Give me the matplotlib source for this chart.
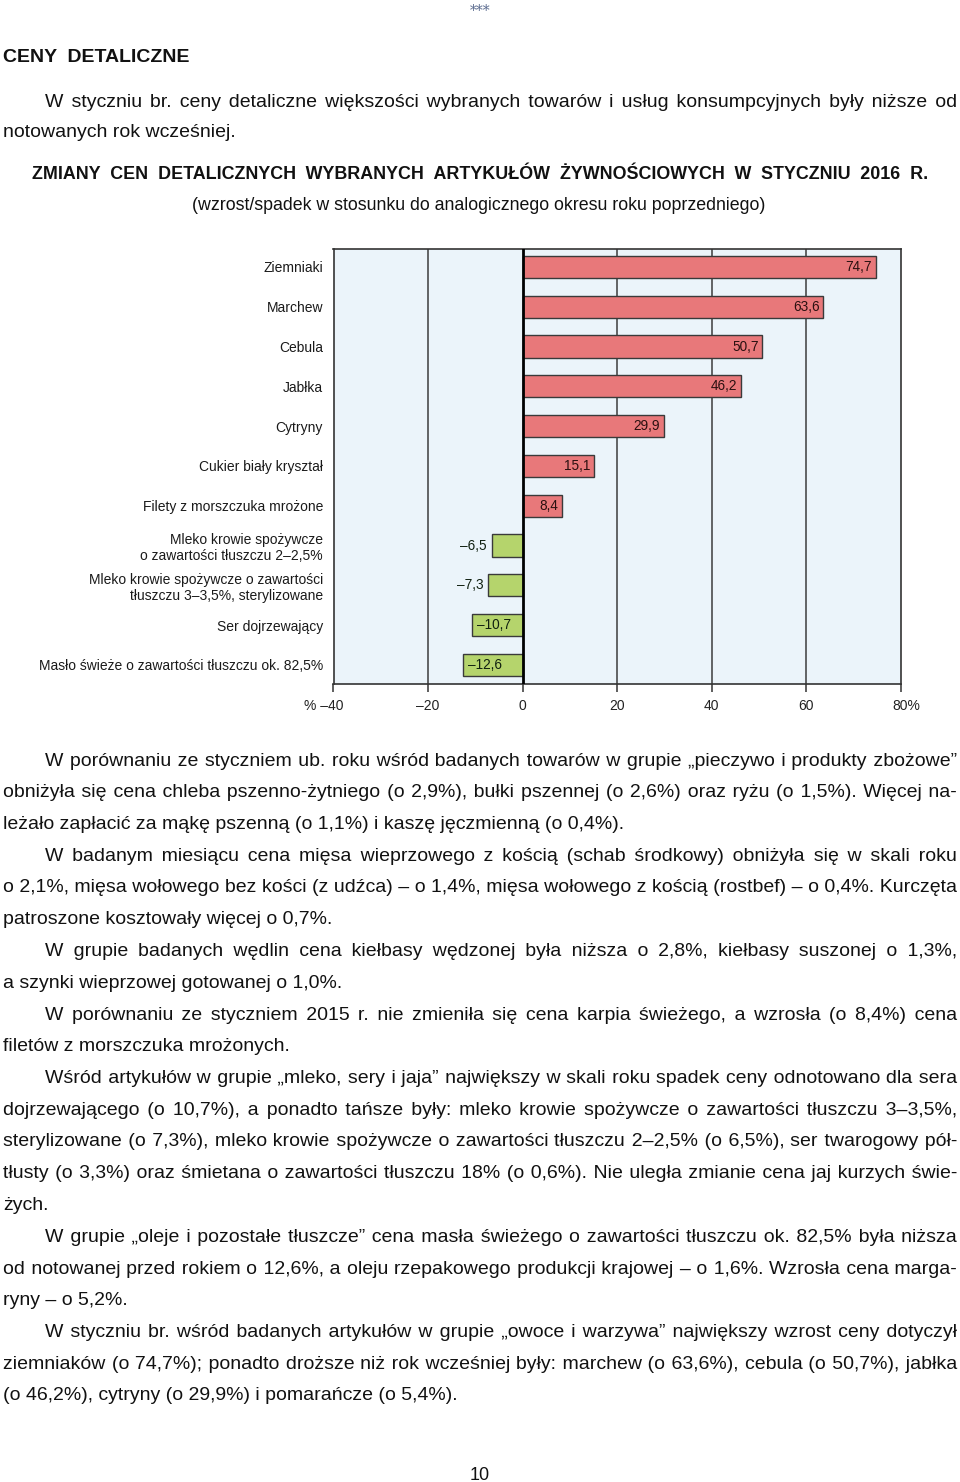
import itertools
import matplotlib
matplotlib.use('Agg')
import matplotlib.pyplot as plt
from matplotlib.transforms import ScaledTranslation
import numpy as np

# ---------------- data ----------------
categories = [
    'Ziemniaki', 'Marchew', 'Cebula', 'Jabłka', 'Cytryny',
    'Cukier biały kryształ', 'Filety z morszczuka mrożone',
    'Mleko krowie spożywcze\no zawartości tłuszczu 2–2,5%',
    'Mleko krowie spożywcze o zawartości\ntłuszczu 3–3,5%, sterylizowane',
    'Ser dojrzewający',
    'Masło świeże o zawartości tłuszczu ok. 82,5%',
]
values = [74.7, 63.6, 50.7, 46.2, 29.9, 15.1, 8.4, -6.5, -7.3, -10.7, -12.6]
tick_values = [-40, -20, 0, 20, 40, 60, 80]
tick_labels = ['% –40', '–20', '0', '20', '40', '60', '80%']

page_mark = '***'
section_title = 'CENY  DETALICZNE'
intro_lines = [
    'W styczniu br. ceny detaliczne większości wybranych towarów i usług konsumpcyjnych były niższe od',
    'notowanych rok wcześniej.',
]
chart_title = 'ZMIANY CEN DETALICZNYCH WYBRANYCH ARTYKUŁÓW ŻYWNOŚCIOWYCH W STYCZNIU 2016 R.'
chart_subtitle = '(wzrost/spadek w stosunku do analogicznego okresu roku poprzedniego)'
paragraphs = [
    ['W porównaniu ze styczniem ub. roku wśród badanych towarów w grupie „pieczywo i produkty zbożowe”',
     'obniżyła się cena chleba pszenno-żytniego (o 2,9%), bułki pszennej (o 2,6%) oraz ryżu (o 1,5%). Więcej na-',
     'leżało zapłacić za mąkę pszenną (o 1,1%) i kaszę jęczmienną (o 0,4%).'],
    ['W badanym miesiącu cena mięsa wieprzowego z kością (schab środkowy) obniżyła się w skali roku',
     'o 2,1%, mięsa wołowego bez kości (z udźca) – o 1,4%, mięsa wołowego z kością (rostbef) – o 0,4%. Kurczęta',
     'patroszone kosztowały więcej o 0,7%.'],
    ['W grupie badanych wędlin cena kiełbasy wędzonej była niższa o 2,8%, kiełbasy suszonej o 1,3%,',
     'a szynki wieprzowej gotowanej o 1,0%.'],
    ['W porównaniu ze styczniem 2015 r. nie zmieniła się cena karpia świeżego, a wzrosła (o 8,4%) cena',
     'filetów z morszczuka mrożonych.'],
    ['Wśród artykułów w grupie „mleko, sery i jaja” największy w skali roku spadek ceny odnotowano dla sera',
     'dojrzewającego (o 10,7%), a ponadto tańsze były: mleko krowie spożywcze o zawartości tłuszczu 3–3,5%,',
     'sterylizowane (o 7,3%), mleko krowie spożywcze o zawartości tłuszczu 2–2,5% (o 6,5%), ser twarogowy pół-',
     'tłusty (o 3,3%) oraz śmietana o zawartości tłuszczu 18% (o 0,6%). Nie uległa zmianie cena jaj kurzych świe-',
     'żych.'],
    ['W grupie „oleje i pozostałe tłuszcze” cena masła świeżego o zawartości tłuszczu ok. 82,5% była niższa',
     'od notowanej przed rokiem o 12,6%, a oleju rzepakowego produkcji krajowej – o 1,6%. Wzrosła cena marga-',
     'ryny – o 5,2%.'],
    ['W styczniu br. wśród badanych artykułów w grupie „owoce i warzywa” największy wzrost ceny dotyczył',
     'ziemniaków (o 74,7%); ponadto droższe niż rok wcześniej były: marchew (o 63,6%), cebula (o 50,7%), jabłka',
     '(o 46,2%), cytryny (o 29,9%) i pomarańcze (o 5,4%).'],
]
page_number = '10'

# ---------------- style ----------------
W, H = 960, 1482
FAM = ['Liberation Sans', 'DejaVu Sans']
PT = 0.72  # points per pixel at dpi 100
RED = '#E8787A'
GREEN = '#B5D46C'
BG = '#EBF4FA'
EDGE = '#3a3a3a'
GRID = '#3c3c3c'
TXT = '#111111'

fig = plt.figure(figsize=(W / 100, H / 100), dpi=100)
fig.patch.set_facecolor('white')
renderer = fig.canvas.get_renderer()


def fx(x):
    return x / W


def fy(y):
    return 1 - y / H


_wcache = {}


def text_width(s, size, weight='normal'):
    key = (s, size, weight)
    if key not in _wcache:
        t = fig.text(0, 0, s, fontsize=size, family=FAM, weight=weight)
        _wcache[key] = t.get_window_extent(renderer).width
        t.remove()
    return _wcache[key]


def advance(s, size, weight='normal'):
    return text_width('x' + s + 'x', size, weight) - text_width('xx', size, weight)


SPACE_CHARS = [' ', '\u2009', '\u200a', '\u2006', '\u2005', '\u2004']


def gap_options(size, weight):
    opts = {}
    for n in (1, 2, 3):
        for combo in itertools.combinations_with_replacement(SPACE_CHARS, n):
            if ' ' not in combo and n > 1:
                pass
            s = ''.join(combo)
            opts[s] = advance(s, size, weight)
    return sorted(opts.items(), key=lambda kv: kv[1])


_gap_cache = {}


def justified_string(s, width, size, weight):
    """Compose one string whose word gaps are filled with unicode spaces of
    mixed widths so that the whole line spans `width` pixels."""
    key = (size, weight)
    if key not in _gap_cache:
        _gap_cache[key] = gap_options(size, weight)
    opts = _gap_cache[key]
    words = [w for w in s.split(' ') if w != '']
    adv = [advance(w, size, weight) for w in words]
    gap = (width - sum(adv)) / (len(words) - 1)
    out = words[0]
    pos = adv[0]
    target = adv[0]
    for w, a in zip(words[1:], adv[1:]):
        target += gap
        need = target - pos
        best = min(opts, key=lambda kv: abs(kv[1] - need))
        out += best[0] + w
        pos += best[1] + a
        target += a
    return out


def put_line(s, x0, x1, base_y, size, weight='normal', justify=True, color=TXT):
    if justify:
        s = justified_string(s, x1 - x0, size, weight)
    fig.text(fx(x0), fy(base_y), s, fontsize=size, family=FAM, weight=weight,
             va='baseline', ha='left', color=color)


BODY = 14.0

# ---------------- header ----------------
fig.text(fx(480), fy(15), page_mark, fontsize=10, family='DejaVu Serif',
         color='#5d6d90', ha='center', va='baseline')
put_line(section_title, 3, 0, 62, BODY, weight='bold', justify=False)
put_line(intro_lines[0], 45, 957, 107, BODY)
put_line(intro_lines[1], 3, 0, 137, BODY, justify=False)

title_size = round(BODY * 0.95 * 896 / text_width(chart_title, BODY, 'bold'), 2)
put_line(chart_title, 32, 928, 179, title_size, weight='bold')
sub_size = BODY * 578 / text_width(chart_subtitle, BODY)
fig.text(fx(479), fy(210), chart_subtitle, fontsize=sub_size, family=FAM,
         ha='center', va='baseline', color=TXT)

# ---------------- chart ----------------
ax = fig.add_axes([fx(333.5), fy(684), (901 - 333.5) / W, 435 / H])
ax.set_facecolor(BG)
ypos = np.arange(len(categories))
colors = [RED if v > 0 else GREEN for v in values]
ax.barh(ypos, values, height=0.56, color=colors, edgecolor=EDGE, linewidth=1.0, zorder=3)
ax.set_xlim(tick_values[0], tick_values[-1])
ax.set_ylim(len(categories) - 0.52, -0.45)

for xv in tick_values[1:-1]:
    if xv != 0:
        ax.axvline(xv, color=GRID, lw=1.1, zorder=1)
ax.axvline(0, color='black', lw=2.0, zorder=4)
for sp in ax.spines.values():
    sp.set_color('#333333')
    sp.set_linewidth(1.2)

ax.set_xticks(tick_values)
ax.set_xticklabels(tick_labels, fontsize=10, family=FAM, color='#222222')
ax.tick_params(axis='x', direction='out', length=8 * PT, width=1.1, color='#333333', pad=7 * PT)
ax.set_yticks(ypos)
ax.set_yticklabels(categories, fontsize=10, family=FAM, color='#1a1a1a')
ax.tick_params(axis='y', length=0, pad=10.5 * PT)

lbls = ax.get_xticklabels()
lbls[0].set_transform(lbls[0].get_transform() + ScaledTranslation(-10 / 100, 0, fig.dpi_scale_trans))
lbls[-1].set_transform(lbls[-1].get_transform() + ScaledTranslation(5 / 100, 0, fig.dpi_scale_trans))

px_per_unit = (901 - 333.5) / (tick_values[-1] - tick_values[0])
for i, v in enumerate(values):
    lab = f'{v:.1f}'.replace('.', ',').replace('-', '–')
    if v > 0:
        ax.annotate(lab, (v, i), xytext=(-4 * PT, 0), textcoords='offset points',
                    ha='right', va='center', fontsize=9.8, family=FAM, color='#2a1010', zorder=5)
    elif abs(v) * px_per_unit > 45:
        ax.annotate(lab, (v, i), xytext=(5 * PT, 0), textcoords='offset points',
                    ha='left', va='center', fontsize=9.8, family=FAM, color='#102010', zorder=5)
    else:
        ax.annotate(lab, (v, i), xytext=(-5 * PT, 0), textcoords='offset points',
                    ha='right', va='center', fontsize=9.8, family=FAM, color='#102010', zorder=5)

# ---------------- body text ----------------
base = 765.5
step = 31.75
k = 0
for para in paragraphs:
    for j, line in enumerate(para):
        last = (j == len(para) - 1)
        x0 = 45 if j == 0 else 3
        put_line(line, x0, 957, round(base + k * step), BODY, justify=not last)
        k += 1

fig.text(fx(480), fy(1480), page_number, fontsize=13, family=FAM,
         ha='center', va='baseline', color=TXT)

fig.savefig('out.png', dpi=100, facecolor='white')
